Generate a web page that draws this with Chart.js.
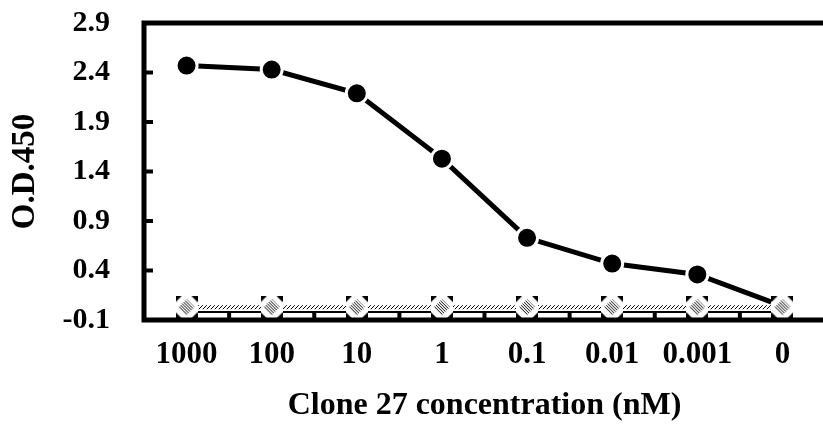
<!DOCTYPE html>
<html>
<head>
<meta charset="utf-8">
<script src="https://cdn.jsdelivr.net/npm/chart.js@4"></script>
<style>
  html, body { margin: 0; padding: 0; background: #fff; overflow: hidden; }
  #wrap { width: 840px; height: 439px; }
</style>
</head>
<body>
<div id="wrap"><canvas id="odChart"></canvas></div>
<script>
    // 濃度 (nM)
    var concLabels = ['1000', '100', '10', '1', '0.1', '0.01', '0.001', '0'];
    // Clone 27 結合 O.D.450
    var clone27 = [2.47, 2.43, 2.19, 1.53, 0.73, 0.47, 0.36, 0.04];
    // 對照組
    var controlA = [0.03, 0.03, 0.03, 0.03, 0.03, 0.03, 0.03, 0.03];
    var controlB = [-0.02, -0.02, -0.02, -0.02, -0.02, -0.02, -0.02, -0.02];
    var yTicks = [-0.1, 0.4, 0.9, 1.4, 1.9, 2.4, 2.9];

    var serif = '"Liberation Serif", "DejaVu Serif", serif';

    // 斜線網底
    function makeHatch() {
        var c = document.createElement('canvas');
        c.width = 4; c.height = 4;
        var g = c.getContext('2d');
        g.fillStyle = '#fff';
        g.fillRect(0, 0, 4, 4);
        g.strokeStyle = '#000';
        g.lineWidth = 1;
        g.beginPath();
        g.moveTo(0, 4); g.lineTo(4, 0);
        g.stroke();
        return g.createPattern(c, 'repeat');
    }

    // 方框菱形標記
    function makeMarker() {
        var s = 22;
        var c = document.createElement('canvas');
        c.width = s; c.height = s;
        var g = c.getContext('2d');
        g.fillStyle = '#fff';
        g.fillRect(0, 0, s, s);
        g.fillStyle = '#000';
        var k = 6;
        [[0, 0, 1, 1], [s, 0, -1, 1], [0, s, 1, -1], [s, s, -1, -1]].forEach(function (p) {
            g.beginPath();
            g.moveTo(p[0], p[1]);
            g.lineTo(p[0] + k * p[2], p[1]);
            g.lineTo(p[0], p[1] + k * p[3]);
            g.closePath();
            g.fill();
        });
        g.save();
        g.beginPath();
        g.moveTo(s / 2, 3); g.lineTo(s - 3, s / 2); g.lineTo(s / 2, s - 3); g.lineTo(3, s / 2);
        g.closePath();
        g.clip();
        g.fillStyle = '#fff';
        g.fillRect(0, 0, s, s);
        g.strokeStyle = '#000';
        g.lineWidth = 1;
        for (var i = -s; i < 2 * s; i += 3) {
            g.beginPath();
            g.moveTo(i, 0); g.lineTo(i + s, s);
            g.stroke();
        }
        g.restore();
        return c;
    }

    // 外框與向內刻度
    var framePlugin = {
        id: 'frame',
        afterDatasetsDraw: function (chart) {
            var ctx = chart.ctx, a = chart.chartArea;
            var x = chart.scales.x, y = chart.scales.y;
            ctx.save();
            ctx.strokeStyle = '#000';
            ctx.lineCap = 'square';
            ctx.lineWidth = 5;
            ctx.beginPath();
            ctx.moveTo(a.right + 10, a.top);
            ctx.lineTo(a.left, a.top);
            ctx.lineTo(a.left, a.bottom);
            ctx.lineTo(a.right + 10, a.bottom);
            ctx.stroke();
            ctx.lineCap = 'butt';
            ctx.lineWidth = 4;
            yTicks.forEach(function (v) {
                var py = y.getPixelForValue(v);
                ctx.beginPath();
                ctx.moveTo(a.left, py);
                ctx.lineTo(a.left + 9, py);
                ctx.stroke();
            });
            for (var i = 0; i < concLabels.length - 1; i++) {
                var px = (x.getPixelForValue(i) + x.getPixelForValue(i + 1)) / 2;
                ctx.beginPath();
                ctx.moveTo(px, a.bottom);
                ctx.lineTo(px, a.bottom - 9);
                ctx.stroke();
            }
            ctx.restore();
        }
    };

    window.onload = function () {
        var ctx = document.getElementById('odChart').getContext('2d');
        var hatch = makeHatch();
        var marker = makeMarker();

        window.odChart = new Chart(ctx, {
            type: 'line',
            data: {
                labels: concLabels,
                datasets: [{
                    label: 'Control A',
                    data: controlA,
                    borderColor: hatch,
                    borderWidth: 4,
                    pointStyle: marker,
                    pointRadius: 11,
                    pointHoverRadius: 11
                }, {
                    label: 'Control B',
                    data: controlB,
                    borderColor: '#000',
                    borderWidth: 2,
                    pointRadius: 0
                }, {
                    label: 'Clone 27',
                    data: clone27,
                    borderColor: '#000',
                    borderWidth: 5,
                    pointBackgroundColor: '#000',
                    pointBorderColor: '#fff',
                    pointBorderWidth: 3,
                    pointRadius: 10.5,
                    pointHoverRadius: 10.5
                }]
            },
            options: {
                responsive: true,
                maintainAspectRatio: false,
                animation: false,
                events: [],
                layout: {
                    padding: { left: 0, top: 23, right: 2, bottom: 0 }
                },
                plugins: {
                    legend: { display: false },
                    tooltip: { enabled: false }
                },
                scales: {
                    x: {
                        offset: true,
                        grid: { display: false, drawTicks: false },
                        border: { display: false },
                        ticks: {
                            color: '#000',
                            padding: 16,
                            maxRotation: 0,
                            font: { family: serif, size: 31, weight: 'bold' }
                        },
                        title: {
                            display: true,
                            text: 'Clone 27 concentration (nM)',
                            color: '#000',
                            padding: { top: 4, bottom: 14 },
                            font: { family: serif, size: 32, weight: 'bold' }
                        },
                        afterFit: function (scale) {
                            scale.height = 119;
                            scale.paddingLeft = 0;
                            scale.paddingRight = 0;
                        }
                    },
                    y: {
                        min: -0.1,
                        max: 2.9,
                        afterBuildTicks: function (scale) {
                            scale.ticks = yTicks.map(function (v) { return { value: v }; });
                        },
                        grid: { display: false, drawTicks: false },
                        border: { display: false },
                        ticks: {
                            color: '#000',
                            padding: 34,
                            font: { family: serif, size: 30, weight: 'bold' },
                            callback: function (v) { return Number(v).toFixed(1); }
                        },
                        title: {
                            display: true,
                            text: 'O.D.450',
                            color: '#000',
                            padding: { top: 6, bottom: 0 },
                            font: { family: serif, size: 33, weight: 'bold' }
                        },
                        afterFit: function (scale) {
                            scale.width = 144;
                            scale.paddingTop = 0;
                            scale.paddingBottom = 0;
                        }
                    }
                }
            },
            plugins: [framePlugin]
        });
    };
</script>
</body>
</html>
